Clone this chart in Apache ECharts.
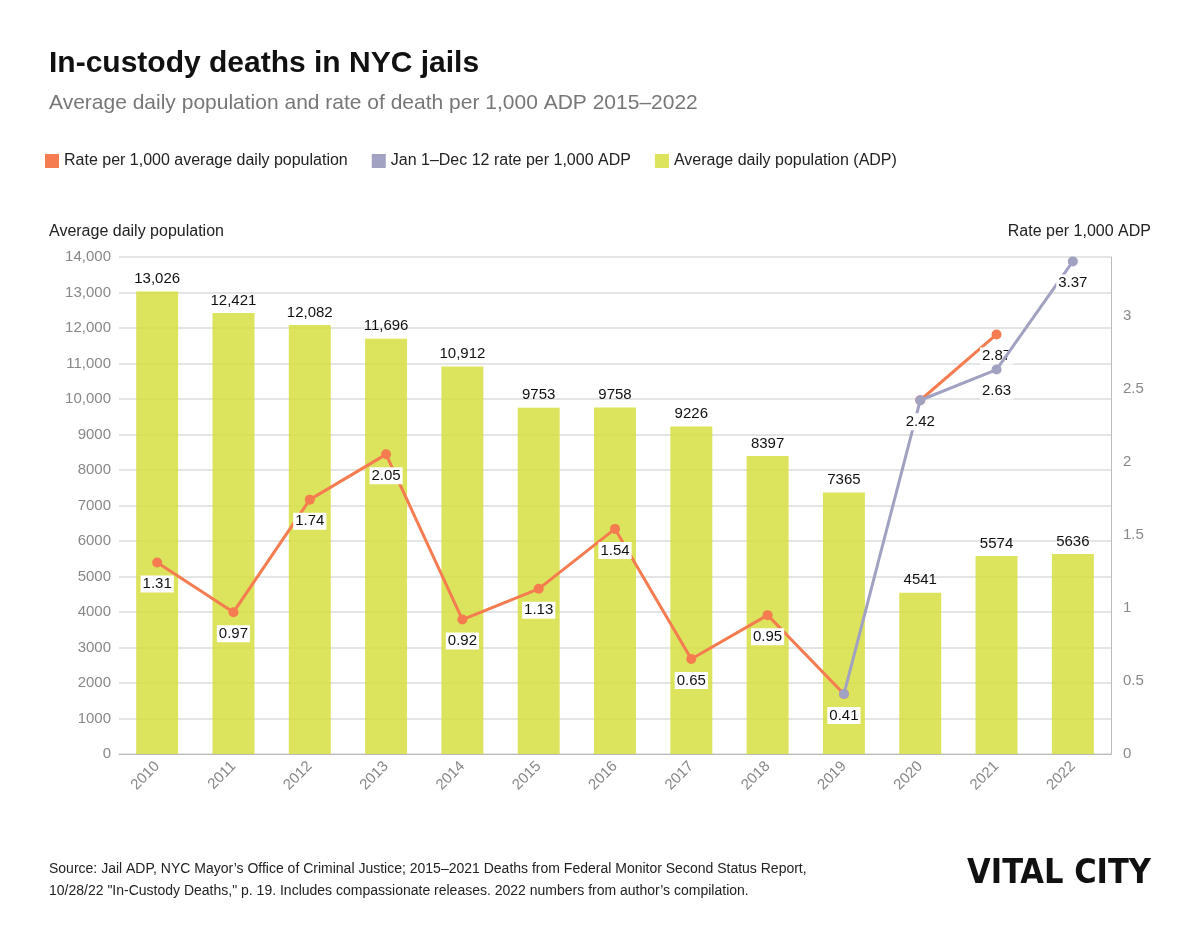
<!DOCTYPE html>
<html>
<head>
<meta charset="utf-8">
<script src="https://cdn.jsdelivr.net/npm/echarts@6/dist/echarts.min.js"></script>
<style>
  body { margin:0; background:#fff; font-family: "Libre Franklin", "Liberation Sans", Arial, sans-serif; }
  #chart { width:1200px; height:927px; }
</style>
</head>
<body>
<div id="chart"></div>
<script>
    // data
    var years = ['2010','2011','2012','2013','2014','2015','2016','2017','2018','2019','2020','2021','2022'];
    var adp = [13026, 12421, 12082, 11696, 10912, 9753, 9758, 9226, 8397, 7365, 4541, 5574, 5636];
    var rateA = [1.31, 0.97, 1.74, 2.05, 0.92, 1.13, 1.54, 0.65, 0.95, 0.41, null, null, null];
    var rateB = [null, null, null, null, null, null, null, null, null, null, 2.42, 2.87, null];
    var ratePartial = [null, null, null, null, null, null, null, null, null, 0.41, 2.42, 2.63, 3.37];

    var orange = '#f47c50', purple = '#a1a1c2', bar = 'rgba(214,222,64,0.85)';
    var txt = '#222';

    function rateLabel(show) {
        return {
            show: show, position: 'bottom', distance: 8,
            color: '#111', fontSize: 15, backgroundColor: '#fff', padding: [1, 2],
            formatter: function (p) { return p.value == null ? '' : p.value.toFixed(2); }
        };
    }

    var chart = echarts.init(document.getElementById('chart'));
    chart.setOption({
        backgroundColor: '#fff',
        textStyle: { fontFamily: 'Liberation Sans, Arial, sans-serif' },
        title: [
            { text: 'In-custody deaths in NYC jails', left: 44, top: 44,
              textStyle: { fontSize: 30, fontWeight: 'bold', color: '#111' } },
            { text: 'Average daily population and rate of death per 1,000 ADP 2015\u20132022', left: 44, top: 88,
              textStyle: { fontSize: 21, fontWeight: 'normal', color: '#777' } },
            { text: 'Average daily population', left: 44, top: 219,
              textStyle: { fontSize: 16, fontWeight: 'normal', color: txt } },
            { text: 'Rate per 1,000 ADP', right: 44, top: 219,
              textStyle: { fontSize: 16, fontWeight: 'normal', color: txt } },
            { text: 'Source: Jail ADP, NYC Mayor\u2019s Office of Criminal Justice; 2015\u20132021 Deaths from Federal Monitor Second Status Report,\n10/28/22 "In-Custody Deaths," p. 19. Includes compassionate releases. 2022 numbers from author\u2019s compilation.',
              left: 44, top: 853,
              textStyle: { fontSize: 14, fontWeight: 'normal', color: txt, lineHeight: 22 } },
            { text: 'VITAL CITY', right: 44, top: 852,
              textStyle: { fontSize: 34, fontWeight: 900, color: '#111', fontFamily: 'DejaVu Sans Condensed' } }
        ],
        legend: {
            left: 40, top: 148, itemWidth: 14, itemHeight: 14, itemGap: 24, icon: 'rect',
            textStyle: { fontSize: 16, color: txt },
            data: ['Rate per 1,000 average daily population', 'Jan 1\u2013Dec 12 rate per 1,000 ADP', 'Average daily population (ADP)']
        },
        grid: { left: 119, right: 89, top: 257, bottom: 173 },
        xAxis: {
            type: 'category', data: years,
            axisLine: { lineStyle: { color: '#bbb' } }, axisTick: { show: false },
            axisLabel: { rotate: 45, color: '#888', fontSize: 15, margin: 10 }
        },
        yAxis: [
            { type: 'value', min: 0, max: 14000, interval: 1000,
              axisLabel: { color: '#888', fontSize: 15,
                  formatter: function (v) { return v >= 10000 ? echarts.format.addCommas(v) : v; } },
              splitLine: { lineStyle: { color: '#ddd', width: 1.5 } } },
            { type: 'value', min: 0, max: 3.4, interval: 0.5,
              axisLine: { show: true, lineStyle: { color: '#bbb' } },
              axisLabel: { color: '#888', fontSize: 15, showMaxLabel: false, margin: 12 },
              splitLine: { show: false } }
        ],
        series: [
            { name: 'Average daily population (ADP)', type: 'bar', data: adp, barWidth: '55%',
              itemStyle: { color: bar },
              label: { show: true, position: 'top', color: '#111', fontSize: 15,
                  formatter: function (p) { return p.value >= 10000 ? echarts.format.addCommas(p.value) : p.value; } } },
            { name: 'Rate per 1,000 average daily population', type: 'line', yAxisIndex: 1, data: rateA,
              color: orange, lineStyle: { width: 3 }, symbol: 'circle', symbolSize: 10,
              label: rateLabel(true), z: 3 },
            { name: 'Jan 1\u2013Dec 12 rate per 1,000 ADP', type: 'line', yAxisIndex: 1, data: ratePartial,
              color: purple, lineStyle: { width: 3 }, symbol: 'circle', symbolSize: 10, z: 4,
              label: { show: true, position: 'bottom', distance: 8, color: '#111', fontSize: 15,
                  backgroundColor: '#fff', padding: [1, 2],
                  formatter: function (p) { return (p.dataIndex === 9 || p.value == null) ? '' : p.value.toFixed(2); } } },
            { name: 'Rate per 1,000 average daily population', type: 'line', yAxisIndex: 1, data: rateB,
              color: orange, lineStyle: { width: 3 }, symbol: 'circle', symbolSize: 10, z: 3,
              label: { show: true, position: 'bottom', distance: 8, color: '#111', fontSize: 15,
                  backgroundColor: '#fff', padding: [1, 2],
                  formatter: function (p) { return p.dataIndex === 11 ? p.value.toFixed(2) : ''; } } }
        ]
    });
</script>
</body>
</html>
